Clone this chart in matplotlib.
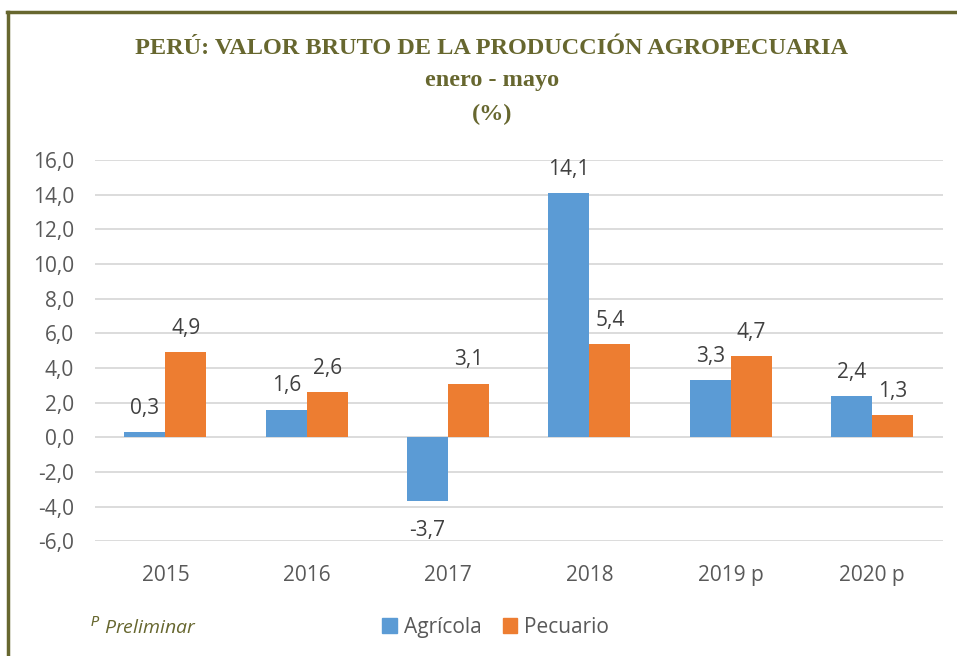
import matplotlib
matplotlib.use('Agg')
import matplotlib.pyplot as plt
import numpy as np
from matplotlib.lines import Line2D

# Datos
anios = ['2015', '2016', '2017', '2018', '2019 p', '2020 p']
agricola = [0.3, 1.6, -3.7, 14.1, 3.3, 2.4]
pecuario = [4.9, 2.6, 3.1, 5.4, 4.7, 1.3]

color_agr = '#5b9bd5'
color_pec = '#ed7d31'
oliva = '#67672f'
gris = '#595959'

plt.rcParams['font.family'] = ['Open Sans', 'DejaVu Sans']

fig = plt.figure(figsize=(9.57, 6.56), dpi=100)
ax = fig.add_axes([0.099, 0.175, 0.886, 0.581])

x = np.arange(len(anios))
w = 0.29
b1 = ax.bar(x - w / 2, agricola, w, color=color_agr, label='Agrícola', zorder=3)
b2 = ax.bar(x + w / 2, pecuario, w, color=color_pec, label='Pecuario', zorder=3)

def etiqueta(v):
    return f'{v:.1f}'.replace('.', ',')

# etiquetas de datos
for bars, vals in ((b1, agricola), (b2, pecuario)):
    for rect, v in zip(bars, vals):
        cx = rect.get_x() + rect.get_width() / 2
        dy = 17 if v >= 0 else -21
        ax.annotate(etiqueta(v), (cx, v), xytext=(0, dy),
                    textcoords='offset points', ha='center', va='center',
                    fontsize=15, color='#404040')

ax.set_xlim(-0.5, len(anios) - 0.5)
ax.set_ylim(-6, 16)
yt = np.arange(-6, 17, 2)
ax.set_yticks(yt)
ax.set_yticklabels([etiqueta(t) for t in yt])
ax.set_xticks(x)
ax.set_xticklabels(anios)
ax.tick_params(axis='both', length=0, labelsize=15, colors=gris)
ax.tick_params(axis='x', pad=17)
ax.tick_params(axis='y', pad=15)
ax.grid(axis='y', color='#d9d9d9', linewidth=1.3, zorder=0)
for s in ax.spines.values():
    s.set_visible(False)

# Titulo
tit = dict(ha='center', va='center', fontsize=17.5, fontweight='bold',
           color=oliva, family='Liberation Serif')
fig.text(0.514, 0.926, 'PERÚ: VALOR BRUTO DE LA PRODUCCIÓN AGROPECUARIA', **tit)
fig.text(0.514, 0.877, 'enero - mayo', **tit)
fig.text(0.514, 0.826, '(%)', **tit)

# Nota
fig.text(0.094, 0.044, '$^{P}$ Preliminar', ha='left', va='center',
         fontsize=14, style='italic', color=oliva)

# Leyenda
handles = [plt.Rectangle((0, 0), 1, 1, color=color_agr),
           plt.Rectangle((0, 0), 1, 1, color=color_pec)]
fig.legend(handles, ['Agrícola', 'Pecuario'], loc='center',
           bbox_to_anchor=(0.518, 0.044), ncol=2, frameon=False,
           fontsize=15, handlelength=0.7, handleheight=0.7,
           handletextpad=0.35, columnspacing=1.0, labelcolor=gris)

# Marco
fig.add_artist(Line2D([0.008, 0.008], [0, 0.982], transform=fig.transFigure,
                      color=oliva, linewidth=2.5))
fig.add_artist(Line2D([0.007, 1.0], [0.982, 0.982], transform=fig.transFigure,
                      color=oliva, linewidth=2.5))

fig.savefig('out.png', dpi=100, facecolor='white')
